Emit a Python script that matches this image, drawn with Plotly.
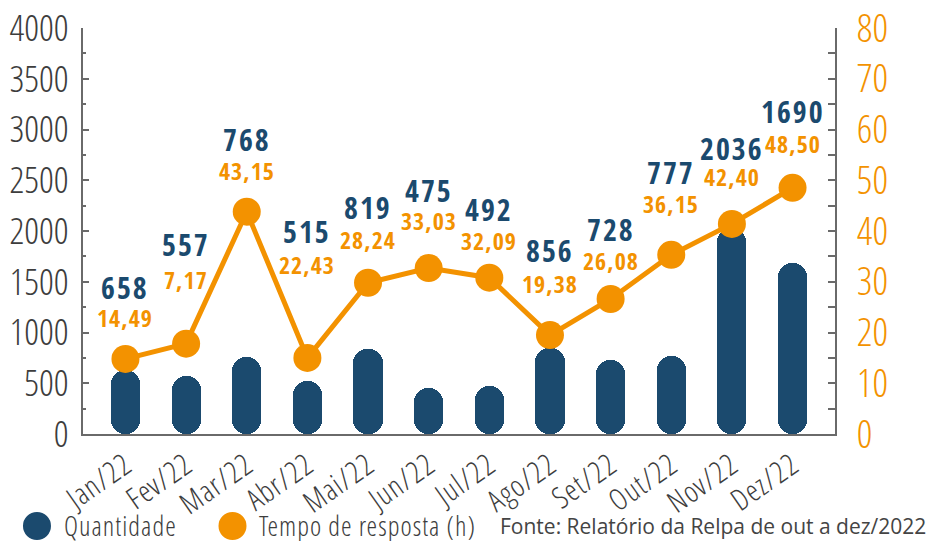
import plotly.graph_objects as go

months = ["Jan/22", "Fev/22", "Mar/22", "Abr/22", "Mai/22", "Jun/22",
          "Jul/22", "Ago/22", "Set/22", "Out/22", "Nov/22", "Dez/22"]
quantidade = [630, 567, 759, 522, 837, 453, 473, 847, 729, 768, 2030, 1685]
tempo = [14.8, 17.8, 43.8, 15.0, 29.8, 32.7, 30.8, 19.5, 26.6, 35.3, 41.4, 48.5]
quant_labels = ["658", "557", "768", "515", "819", "475", "492", "856", "728", "777", "2036", "1690"]
tempo_labels = ["14,49", "7,17", "43,15", "22,43", "28,24", "33,03", "32,09", "19,38", "26,08", "36,15", "42,40", "48,50"]
zeros = [0] * len(months)

# label pixel offsets above the line points (style only)
blue_shift = [71, 99, 72, 126, 75, 78, 68, 85, 70, 82, 75, 76]
orange_shift = [41, 64, 41, 93, 43, 48, 37, 52, 39, 51, 47, 44]

BLUE = "#1b4a6e"
ORANGE = "#f39200"
GREY = "#3d3d3d"
AXIS = "#6a6a6a"
LIGHT = "Open Sans Condensed Light, Open Sans, sans-serif"
BOLD = "Open Sans Condensed, Open Sans, sans-serif"


def sp(txt, px):
    return "<span style='letter-spacing:%spx'>%s</span>" % (px, txt)


fig = go.Figure()
# floating bars (explicit base) get all corners rounded -> pill shape
fig.add_trace(go.Bar(x=months, y=quantidade, base=zeros,
                     marker=dict(color=BLUE, cornerradius=14, line=dict(width=0)),
                     width=0.48, showlegend=False, hoverinfo="skip"))
fig.add_trace(go.Scatter(x=months, y=tempo, yaxis="y2", mode="lines+markers",
                         line=dict(color=ORANGE, width=5),
                         marker=dict(color=ORANGE, size=28), showlegend=False))

annotations = []
for m, t, ql, tl, bs, os_ in zip(months, tempo, quant_labels, tempo_labels, blue_shift, orange_shift):
    annotations.append(dict(x=m, y=t, xref="x", yref="y2", text=sp(ql, 2), showarrow=False,
                            yshift=bs, yanchor="middle",
                            font=dict(family=BOLD, size=30, color=BLUE, weight="bold")))
    annotations.append(dict(x=m, y=t, xref="x", yref="y2", text=sp(tl, 1), showarrow=False,
                            yshift=os_, yanchor="middle",
                            font=dict(family=BOLD, size=24, color=ORANGE, weight="bold")))

# custom legend + source
LY = -0.2266
annotations += [
    dict(x=-0.0279, y=LY, xref="paper", yref="paper", xanchor="left", yanchor="middle",
         text=sp("Quantidade", 1), showarrow=False, font=dict(family=LIGHT, size=27, color=GREY)),
    dict(x=0.2314, y=LY, xref="paper", yref="paper", xanchor="left", yanchor="middle",
         text=sp("Tempo de resposta (h)", 1), showarrow=False, font=dict(family=LIGHT, size=27, color=GREY)),
    dict(x=1.1237, y=LY, xref="paper", yref="paper", xanchor="right", yanchor="middle",
         text="Fonte: Relatório da Relpa de out a dez/2022", showarrow=False,
         font=dict(family="Open Sans, sans-serif", size=21, color="#444444")),
]
shapes = [
    dict(type="circle", xref="paper", yref="paper", xsizemode="pixel", ysizemode="pixel",
         xanchor=-0.0612, yanchor=LY, x0=-14, x1=14, y0=-14, y1=14,
         fillcolor=BLUE, line=dict(width=0)),
    dict(type="circle", xref="paper", yref="paper", xsizemode="pixel", ysizemode="pixel",
         xanchor=0.1988, yanchor=LY, x0=-14, x1=14, y0=-14, y1=14,
         fillcolor=ORANGE, line=dict(width=0)),
]

fig.update_layout(
    width=933, height=541,
    margin=dict(l=83, r=98, t=28, b=107),
    plot_bgcolor="white", paper_bgcolor="white",
    barmode="overlay", bargap=0,
    annotations=annotations, shapes=shapes,
    xaxis=dict(type="category", range=[-0.7, 11.7], showline=True, linecolor=AXIS, linewidth=2,
               ticks="", tickangle=-35, showgrid=False, automargin=False,
               tickvals=months, ticktext=[sp(m, 1) for m in months],
               tickfont=dict(family=LIGHT, size=30, color=GREY)),
    yaxis=dict(range=[0, 4000], dtick=500, showline=True, linecolor=AXIS, linewidth=2,
               ticks="inside", ticklen=6, tickwidth=2, tickcolor=AXIS,
               minor=dict(ticks="inside", ticklen=3, dtick=250, tickcolor=AXIS, tickwidth=2),
               showgrid=False, zeroline=False, ticklabelstandoff=5, automargin=False,
               ticklabeloverflow="allow",
               tickfont=dict(family=LIGHT, size=37, color=GREY)),
    yaxis2=dict(range=[0, 80], dtick=10, overlaying="y", side="right", showline=True,
                linecolor=AXIS, linewidth=2, ticks="inside", ticklen=7, tickwidth=2, tickcolor=AXIS,
                minor=dict(ticks="inside", ticklen=7, dtick=5, tickcolor=AXIS, tickwidth=2),
                showgrid=False, zeroline=False, ticklabelstandoff=12, automargin=False,
                ticklabeloverflow="allow",
                tickfont=dict(family=LIGHT, size=39, color=ORANGE)),
    yaxis3=dict(range=[0, 4000], dtick=500, overlaying="y", side="left", showline=False,
                ticks="outside", ticklen=4, tickwidth=2, tickcolor=AXIS, automargin=False,
                minor=dict(ticks="outside", ticklen=2, dtick=250, tickcolor=AXIS, tickwidth=2),
                showticklabels=False, showgrid=False, zeroline=False),
    yaxis4=dict(range=[0, 80], dtick=10, overlaying="y", side="right", showline=False,
                ticks="outside", ticklen=6, tickwidth=2, tickcolor=AXIS, automargin=False,
                minor=dict(ticks="outside", ticklen=6, dtick=5, tickcolor=AXIS, tickwidth=2),
                showticklabels=False, showgrid=False, zeroline=False),
)

fig.write_html("out.html", config={"displayModeBar": False},
               post_script="document.body.style.margin='0px';")
